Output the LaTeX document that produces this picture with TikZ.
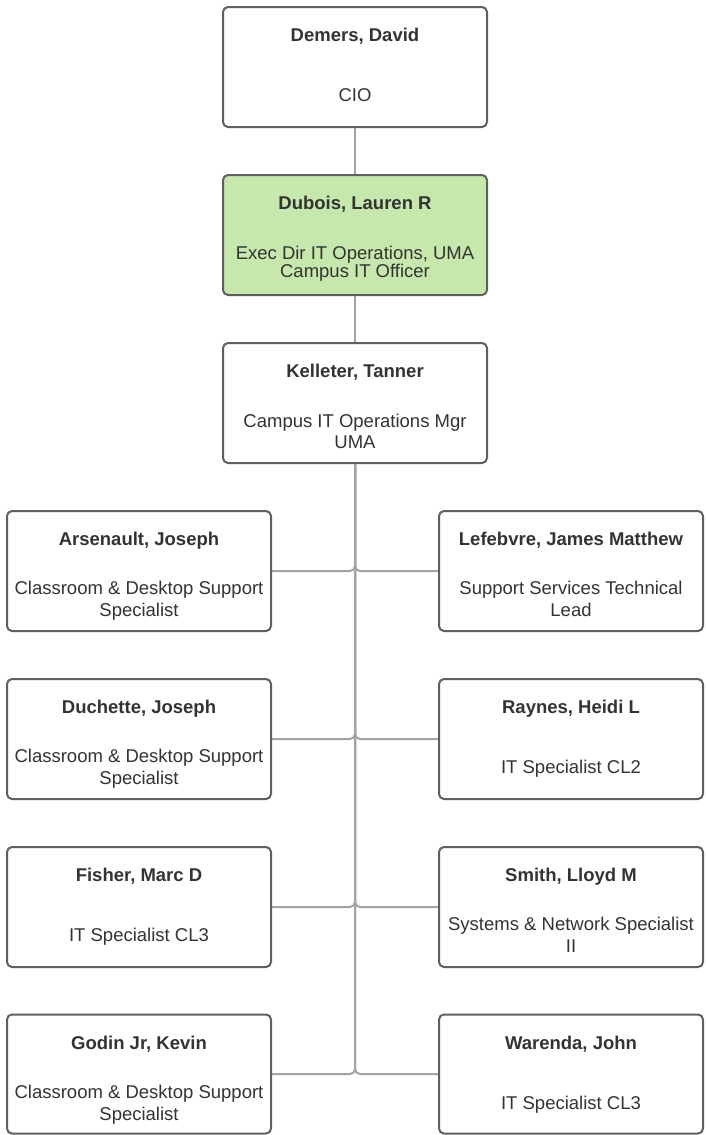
\documentclass[tikz,border=0pt]{standalone}
\usepackage{fontspec}
\setmainfont{Liberation Sans}
\definecolor{bordc}{HTML}{5F5F5F}
\definecolor{connc}{HTML}{A3A3A3}
\definecolor{txt}{HTML}{333333}
\definecolor{grn}{HTML}{C7E8AC}
\newcommand\nameat[3]{\node[nm] at (#1,#2) {#3};}
\newcommand\titleat[3]{\node[tt] at (#1,#2) {#3};}
\begin{document}
\begin{tikzpicture}[x=1pt,y=-1pt,
 box/.style={draw=bordc, line width=2pt, rounded corners=5pt, fill=white, minimum width=264pt, minimum height=120pt, inner sep=0pt},
 nm/.style={anchor=base, font=\fontsize{18.5}{22}\selectfont\bfseries, text=txt, inner sep=0pt},
 tt/.style={anchor=base, font=\fontsize{18.5}{22}\selectfont, text=txt, inner sep=0pt},
 conn/.style={draw=connc, line width=2pt, rounded corners=5pt}]
\useasboundingbox (0,0) rectangle (705,1135);
% boxes
\node[box] (dem) at (355,67) {};
\node[box, fill=grn] (dub) at (355,235) {};
\node[box] (kel) at (355,403) {};
\node[box] (l1) at (139,571) {};
\node[box] (r1) at (571,571) {};
\node[box] (l2) at (139,739) {};
\node[box] (r2) at (571,739) {};
\node[box] (l3) at (139,907) {};
\node[box] (r3) at (571,907) {};
\node[box, minimum height=119pt] (l4) at (139,1074) {};
\node[box, minimum height=119pt] (r4) at (571,1074) {};
% connectors
\draw[conn] (dem) -- (dub);
\draw[conn] (dub) -- (kel);
\foreach \c in {l1,l2,l3,l4} {\draw[conn] (kel.south) |- (\c.east);}
\foreach \c in {r1,r2,r3,r4} {\draw[conn] (kel.south) |- (\c.west);}
% texts
\nameat{355}{41}{Demers, David}
\titleat{355}{101}{CIO}
\nameat{355}{209}{Dubois, Lauren R}
\titleat{355}{259.5}{Exec Dir IT Operations, UMA}
\titleat{355}{277.5}{Campus IT Officer}
\nameat{355}{377}{Kelleter, Tanner}
\titleat{355}{427}{Campus IT Operations Mgr}
\titleat{355}{448}{UMA}
% row 1
\nameat{139}{545}{Arsenault, Joseph}
\titleat{139}{594}{Classroom \& Desktop Support}
\titleat{139}{616}{Specialist}
\nameat{571}{545}{Lefebvre, James Matthew}
\titleat{571}{594}{Support Services Technical}
\titleat{571}{616}{Lead}
% row 2
\nameat{139}{713}{Duchette, Joseph}
\titleat{139}{762}{Classroom \& Desktop Support}
\titleat{139}{784}{Specialist}
\nameat{571}{713}{Raynes, Heidi L}
\titleat{571}{773}{IT Specialist CL2}
% row 3
\nameat{139}{881}{Fisher, Marc D}
\titleat{139}{941}{IT Specialist CL3}
\nameat{571}{881}{Smith, Lloyd M}
\titleat{571}{930}{Systems \& Network Specialist}
\titleat{571}{952}{II}
% row 4
\nameat{139}{1049}{Godin Jr, Kevin}
\titleat{139}{1098}{Classroom \& Desktop Support}
\titleat{139}{1120}{Specialist}
\nameat{571}{1049}{Warenda, John}
\titleat{571}{1109}{IT Specialist CL3}
\end{tikzpicture}
\end{document}
